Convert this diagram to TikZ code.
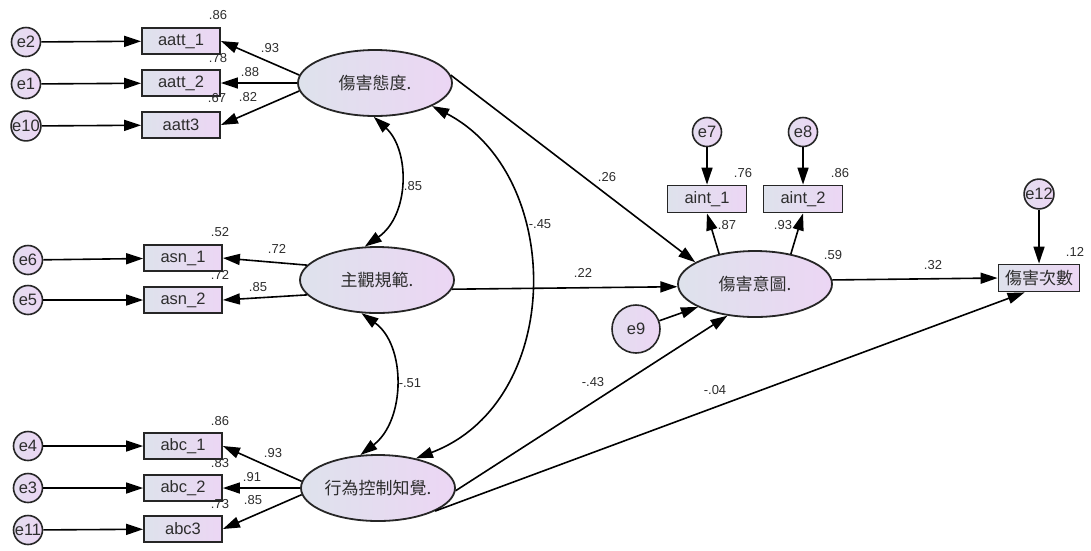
\documentclass[tikz,border=0pt]{standalone}
\usepackage{fontspec}
\setmainfont{Liberation Sans}
\newfontfamily\cjk{Noto Sans CJK TC}
\usetikzlibrary{arrows.meta,shapes.geometric,shadings}
\definecolor{cl}{RGB}{222,226,236}
\definecolor{cr}{RGB}{236,214,244}
\definecolor{tx}{RGB}{45,45,45}
\begin{document}
\begin{tikzpicture}[x=1pt,y=-1pt,
  obs/.style={draw=black!85, line width=1.8pt, left color=cl, right color=cr, minimum width=78pt, minimum height=26pt, inner sep=0pt, font=\fontsize{16.5}{18}\selectfont, text=tx},
  err/.style={circle, draw=black!85, line width=1.6pt, left color=cl!60!cr, right color=cr, minimum size=29pt, inner sep=0pt, font=\fontsize{16.5}{18}\selectfont, text=tx},
  lat/.style={ellipse, draw=black!85, line width=1.8pt, left color=cl, right color=cr, minimum width=154pt, minimum height=66pt, inner sep=0pt, font=\cjk\fontsize{17}{19}\selectfont, text=tx},
  lbl/.style={font=\fontsize{13}{15}\selectfont, text=tx, inner sep=0pt},
  arr/.style={line width=1.6pt, -{Triangle[length=17pt,width=11pt]}},
  cov/.style={line width=1.6pt, {Triangle[length=17pt,width=11pt]}-{Triangle[length=17pt,width=11pt]}}
]
\useasboundingbox (0,0) rectangle (1091,550);

% latent variables
\node[lat] (att) at (375,83) {傷害態度.};
\node[lat] (sn) at (377,280) {主觀規範.};
\node[lat] (pbc) at (378,488) {行為控制知覺.};
\node[lat] (int) at (755,284) {傷害意圖.};

% observed
\node[obs] (a1) at (181,41) {aatt\_1};
\node[obs] (a2) at (181,83) {aatt\_2};
\node[obs] (a3) at (181,125) {aatt3};
\node[obs] (s1) at (183,258) {asn\_1};
\node[obs] (s2) at (183,300) {asn\_2};
\node[obs] (b1) at (183,446) {abc\_1};
\node[obs] (b2) at (183,488) {abc\_2};
\node[obs] (b3) at (183,529) {abc3};
\node[obs, minimum width=79pt, minimum height=27pt] (i1) at (707,199) {aint\_1};
\node[obs, minimum width=79pt, minimum height=27pt] (i2) at (803,199) {aint\_2};
\node[obs, minimum width=81pt, minimum height=27pt, font=\cjk\fontsize{17}{19}\selectfont] (cnt) at (1039,278) {傷害次數};

% errors
\node[err] (e2) at (26,42) {e2};
\node[err] (e1) at (26,84) {e1};
\node[err] (e10) at (26,126) {e10};
\node[err] (e6) at (28,260) {e6};
\node[err] (e5) at (28,300) {e5};
\node[err] (e4) at (28,446) {e4};
\node[err] (e3) at (28,488) {e3};
\node[err] (e11) at (28,530) {e11};
\node[err] (e7) at (707,132) {e7};
\node[err] (e8) at (803,132) {e8};
\node[err] (e9) at (636,329) [minimum size=48pt] {e9};
\node[err] (e12) at (1039,194) {e12};

% error arrows
\draw[arr] (e2) -- (a1);
\draw[arr] (e1) -- (a2);
\draw[arr] (e10) -- (a3);
\draw[arr] (e6) -- (s1);
\draw[arr] (e5) -- (s2);
\draw[arr] (e4) -- (b1);
\draw[arr] (e3) -- (b2);
\draw[arr] (e11) -- (b3);
\draw[arr] (e7) -- (i1);
\draw[arr] (e8) -- (i2);
\draw[arr] (e12) -- (cnt);
\draw[arr] (e9) -- (int.202);

% loadings
\draw[arr] (att.174) -- (a1.east);
\draw[arr] (att.180) -- (a2.east);
\draw[arr] (att.186) -- (a3.east);
\draw[arr] (sn.168) -- (s1.east);
\draw[arr] (sn.192) -- (s2.east);
\draw[arr] (pbc.175) -- (b1.east);
\draw[arr] (pbc.180) -- (b2.east);
\draw[arr] (pbc.185) -- (b3.east);
\draw[arr] (int.140) -- (i1.south);
\draw[arr] (int.40) -- (i2.south);

% structural paths
\draw[arr] (att.6) -- (int.160);
\draw[arr] (sn.353) -- (int.182);
\draw[arr] (pbc.358) -- (int.229);
\draw[arr] (pbc.338) -- (cnt.225);
\draw[arr] (int.3) -- (cnt.west);

% covariances
\draw[cov] (att.268) .. controls (410,150) and (410,215) .. (sn.110);
\draw[cov] (sn.245) .. controls (406,345) and (406,420) .. (pbc.118);
\draw[cov] (att.338) .. controls (565,175) and (565,402) .. (pbc.38);

% labels
\node[lbl] (l1) at (218,15) {.86};
\node[lbl] (l2) at (270,48) {.93};
\node[lbl] (l3) at (218,58) {.78};
\node[lbl] (l4) at (250,72) {.88};
\node[lbl] (l5) at (217,98) {.67};
\node[lbl] (l6) at (248,97) {.82};
\node[lbl] (l7) at (220,232) {.52};
\node[lbl] (l8) at (277,249) {.72};
\node[lbl] (l9) at (220,275) {.72};
\node[lbl] (l10) at (258,287) {.85};
\node[lbl] (l11) at (220,421) {.86};
\node[lbl] (l12) at (273,453) {.93};
\node[lbl] (l13) at (220,463) {.83};
\node[lbl] (l14) at (252,477) {.91};
\node[lbl] (l15) at (220,504) {.73};
\node[lbl] (l16) at (253,500) {.85};
\node[lbl] (l17) at (413,186) {.85};
\node[lbl] (l18) at (540,224) {-.45};
\node[lbl] (l19) at (410,383) {-.51};
\node[lbl] (l20) at (607,177) {.26};
\node[lbl] (l21) at (583,273) {.22};
\node[lbl] (l22) at (593,382) {-.43};
\node[lbl] (l23) at (715,390) {-.04};
\node[lbl] (l24) at (743,173) {.76};
\node[lbl] (l25) at (840,173) {.86};
\node[lbl] (l26) at (727,225) {.87};
\node[lbl] (l27) at (783,225) {.93};
\node[lbl] (l28) at (833,255) {.59};
\node[lbl] (l29) at (933,265) {.32};
\node[lbl] (l30) at (1075,252) {.12};
\end{tikzpicture}
\end{document}
